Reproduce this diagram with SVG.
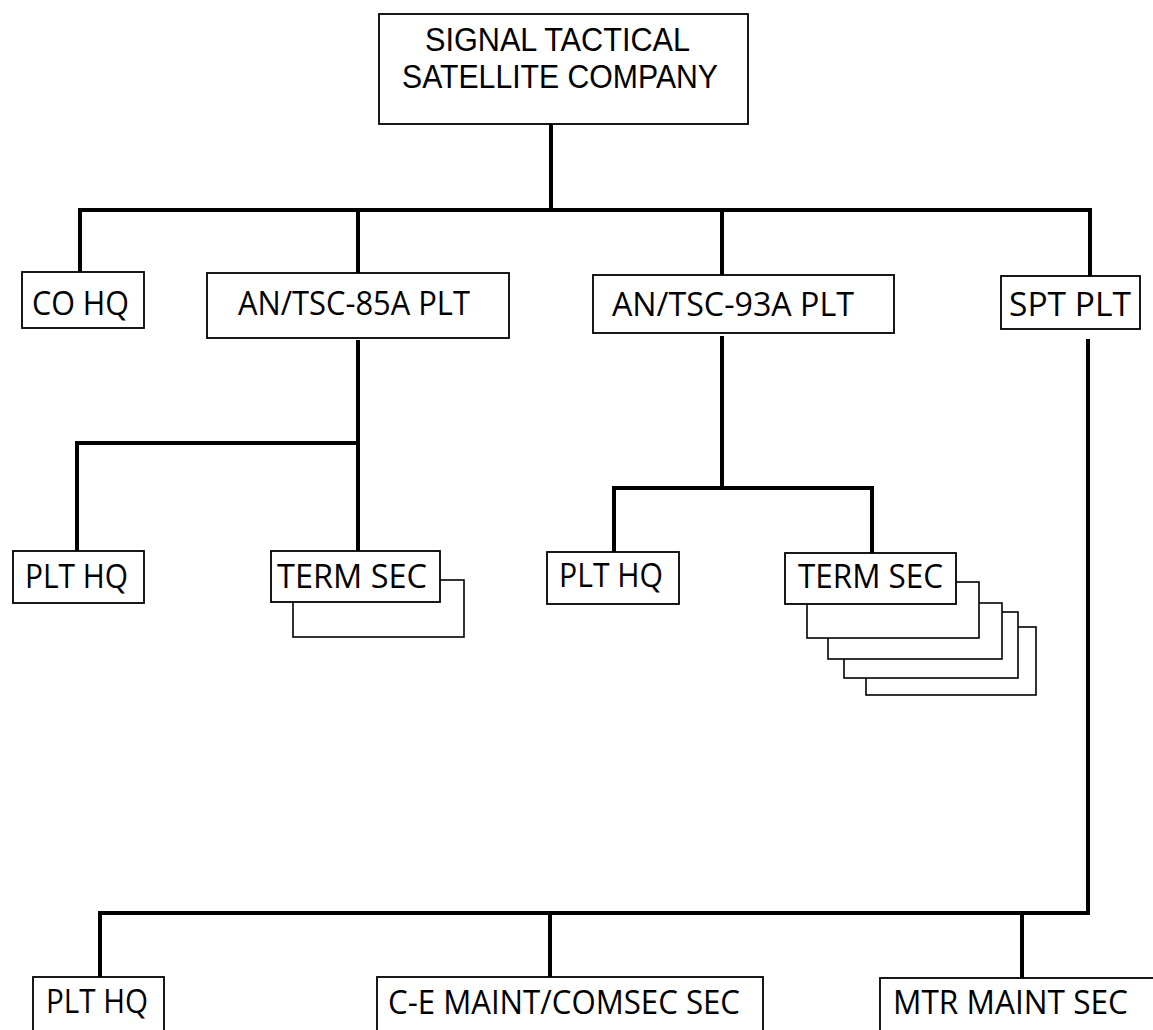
<svg xmlns="http://www.w3.org/2000/svg" width="1153" height="1030" viewBox="0 0 1153 1030">
<style>
.box{fill:#fff;stroke:#000;stroke-width:1.8}
.sh{fill:#fff;stroke:#000;stroke-width:1.6}
.lbl{font-family:"Open Sans","Liberation Sans",Arial,sans-serif;font-size:33px;fill:#000}
.big{font-family:"Liberation Sans",Arial,sans-serif;font-size:33px}
.conn{fill:none;stroke:#000;stroke-width:4;stroke-linejoin:miter;stroke-linecap:square}
</style>
<rect width="1153" height="1030" fill="#fff"/>
<g id="connectors">
<path class="conn" d="M551,125 V210"/>
<path class="conn" d="M80,271 V210 H1090 V275"/>
<path class="conn" d="M358,210 V272"/>
<path class="conn" d="M722,210 V274"/>
<path class="conn" d="M358,342 V550"/>
<path class="conn" d="M77,550 V443 H358"/>
<path class="conn" d="M722,338 V488"/>
<path class="conn" d="M614,551 V488 H872 V552"/>
<path class="conn" d="M1088,341 V913 H100 V976"/>
<path class="conn" d="M550,913 V976"/>
<path class="conn" d="M1022,913 V977"/>
</g>
<g id="n-company">
<rect class="box" x="379" y="14" width="369" height="110"/>
<text class="lbl big" x="425" y="51" textLength="265" lengthAdjust="spacingAndGlyphs">SIGNAL TACTICAL</text>
<text class="lbl big" x="402" y="88" textLength="316" lengthAdjust="spacingAndGlyphs">SATELLITE COMPANY</text>
</g>
<g id="n-cohq">
<rect class="box" x="22" y="272" width="122" height="56"/>
<text class="lbl" x="32" y="315" textLength="97" lengthAdjust="spacingAndGlyphs">CO HQ</text>
</g>
<g id="n-85a">
<rect class="box" x="207" y="273" width="302" height="65"/>
<text class="lbl" x="238" y="315" textLength="232" lengthAdjust="spacingAndGlyphs">AN/TSC-85A PLT</text>
</g>
<g id="n-93a">
<rect class="box" x="593" y="275" width="301" height="58"/>
<text class="lbl" x="612" y="316" textLength="242" lengthAdjust="spacingAndGlyphs">AN/TSC-93A PLT</text>
</g>
<g id="n-spt">
<rect class="box" x="1001" y="276" width="139" height="53"/>
<text class="lbl" x="1009" y="316" textLength="122" lengthAdjust="spacingAndGlyphs">SPT PLT</text>
</g>
<g id="n-85a-plthq">
<rect class="box" x="13" y="551" width="131" height="52"/>
<text class="lbl" x="25" y="588" textLength="103" lengthAdjust="spacingAndGlyphs">PLT HQ</text>
</g>
<g id="n-85a-term">
<rect class="sh" x="293" y="580" width="171" height="57"/>
<rect class="box" x="271" y="551" width="169" height="51"/>
<text class="lbl" x="277" y="588" textLength="150" lengthAdjust="spacingAndGlyphs">TERM SEC</text>
</g>
<g id="n-93a-plthq">
<rect class="box" x="547" y="552" width="132" height="52"/>
<text class="lbl" x="559" y="587" textLength="104" lengthAdjust="spacingAndGlyphs">PLT HQ</text>
</g>
<g id="n-93a-term">
<rect class="sh" x="866" y="627" width="170" height="68"/>
<rect class="sh" x="844" y="612" width="174" height="66"/>
<rect class="sh" x="828" y="603" width="174" height="56"/>
<rect class="sh" x="807" y="582" width="172" height="56"/>
<rect class="box" x="785" y="553" width="171" height="51"/>
<text class="lbl" x="798" y="588" textLength="145" lengthAdjust="spacingAndGlyphs">TERM SEC</text>
</g>
<g id="n-spt-plthq">
<rect class="box" x="33" y="977" width="131" height="70"/>
<text class="lbl" x="46" y="1013" textLength="102" lengthAdjust="spacingAndGlyphs">PLT HQ</text>
</g>
<g id="n-ce">
<rect class="box" x="377" y="977" width="386" height="70"/>
<text class="lbl" x="388" y="1014" textLength="352" lengthAdjust="spacingAndGlyphs">C-E MAINT/COMSEC SEC</text>
</g>
<g id="n-mtr">
<rect class="box" x="880" y="978" width="290" height="70"/>
<text class="lbl" x="893" y="1014" textLength="235" lengthAdjust="spacingAndGlyphs">MTR MAINT SEC</text>
</g>
</svg>
